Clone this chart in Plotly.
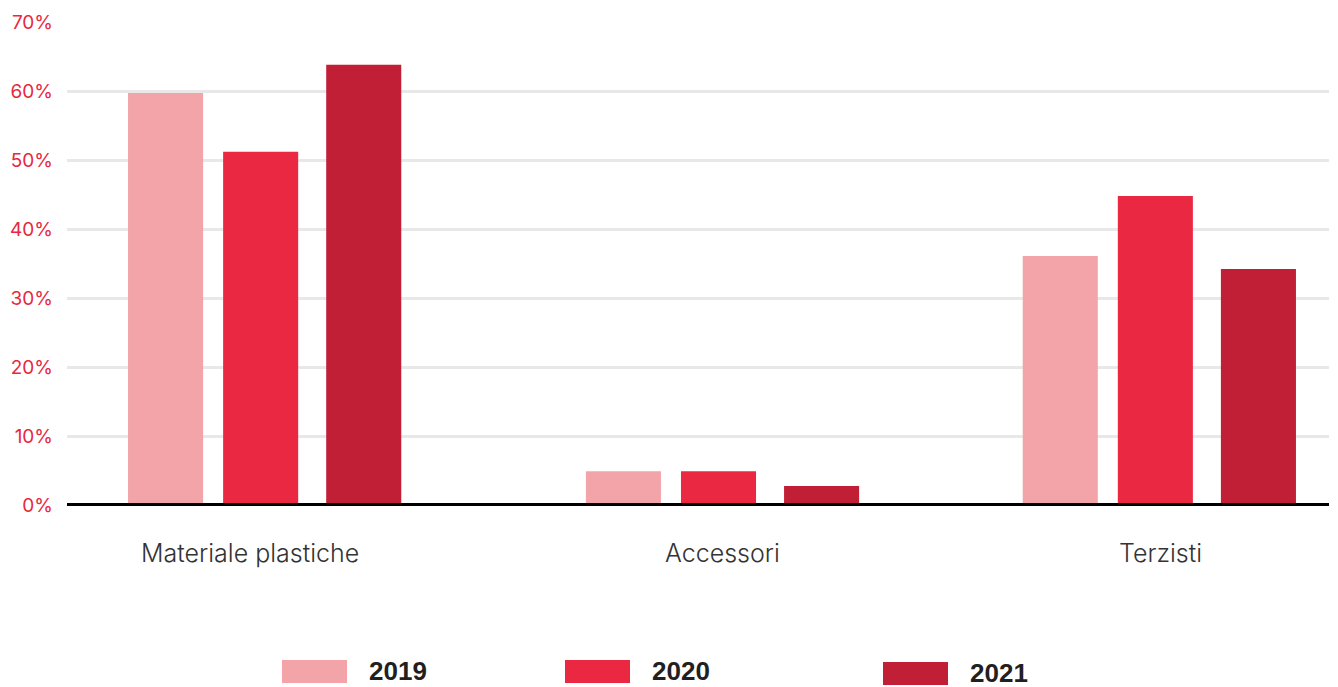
import plotly.graph_objects as go

# ---- data ----
categories = ["Materiale plastiche", "Accessori", "Terzisti"]
years = ["2019", "2020", "2021"]
values_2019 = [59.7, 4.9, 36.1]
values_2020 = [51.2, 4.9, 44.8]
values_2021 = [63.8, 2.75, 34.2]
y_tickvals = [0, 10, 20, 30, 40, 50, 60, 70]
y_ticktext = ["0%", "10%", "20%", "30%", "40%", "50%", "60%", "70%"]

# ---- style ----
colors = ["#f2a4a9", "#ea2842", "#c11f35"]
OFF = 8                          # page body margin
W, H = 1338 - OFF, 687 - OFF
L, R, T, B = 67 - OFF, 1329 - OFF, 22 - OFF, 505 - OFF  # plot area in pixels
unit = 447.5                     # pixels per category step
bar_w = 75 / unit
trace_offset_px = [-136.5, -41.5, 61.5]
group_shift_px = [-5, 5, -6]
x_range = [-0.4525, 2.3654]
label_xshift = [-20, 5, -5]

def px_x(p):
    return (p - OFF - L) / (R - L)

def px_y(p):
    return (B - (p - OFF)) / (B - T)

series = [values_2019, values_2020, values_2021]

fig = go.Figure()
for i, (yr, vals) in enumerate(zip(years, series)):
    offs = [(trace_offset_px[i] + g) / unit for g in group_shift_px]
    fig.add_trace(go.Bar(
        x=categories, y=vals, name=yr,
        marker=dict(color=colors[i], line=dict(width=0)),
        width=bar_w, offset=offs,
        showlegend=False, hoverinfo="x+y+name",
    ))

fig.update_layout(
    width=W, height=H,
    margin=dict(l=L, r=W - R, t=T, b=H - B, pad=0, autoexpand=False),
    paper_bgcolor="white", plot_bgcolor="white",
    barmode="overlay",
    font=dict(family="Inter, Roboto, sans-serif"),
)
fig.update_xaxes(
    type="category", range=x_range, showticklabels=False,
    showgrid=False, zeroline=False, showline=False, ticks="",
)
fig.update_yaxes(
    range=[0, 70], tickvals=y_tickvals, ticktext=y_ticktext,
    showgrid=True, gridcolor="#e8e8e8", gridwidth=2.5,
    zeroline=False, showline=False, ticks="",
    ticklabelstandoff=13,
    tickfont=dict(family="Inter, sans-serif", size=19, color="#e8283f"),
)

# baseline
fig.add_shape(type="line", xref="paper", yref="paper", x0=0, x1=1, y0=px_y(504.5), y1=px_y(504.5),
              line=dict(color="#000000", width=3), layer="above")

# category labels
for cat, xs in zip(categories, label_xshift):
    fig.add_annotation(x=cat, xref="x", y=px_y(553), yref="paper",
                       text=cat, showarrow=False, xshift=xs,
                       xanchor="center", yanchor="middle",
                       font=dict(family="Inter, sans-serif", size=25, weight=300, color="#333333"))

# custom legend
legend_swatch = [(282, 660), (565, 660), (883, 662)]
legend_text_x = [368, 651, 969]
for i, yr in enumerate(years):
    sx, sy = legend_swatch[i]
    fig.add_shape(type="rect", xref="paper", yref="paper",
                  x0=px_x(sx), x1=px_x(sx + 65), y0=px_y(sy), y1=px_y(sy + 23),
                  fillcolor=colors[i], line=dict(width=0))
    fig.add_annotation(x=px_x(legend_text_x[i]), y=px_y(sy + 11), xref="paper", yref="paper",
                       text="<b>" + yr + "</b>", showarrow=False,
                       xanchor="left", yanchor="middle", borderpad=0,
                       font=dict(family="Liberation Sans, Arial, sans-serif", size=26, color="#231f20"))

fig.write_html("out.html")
